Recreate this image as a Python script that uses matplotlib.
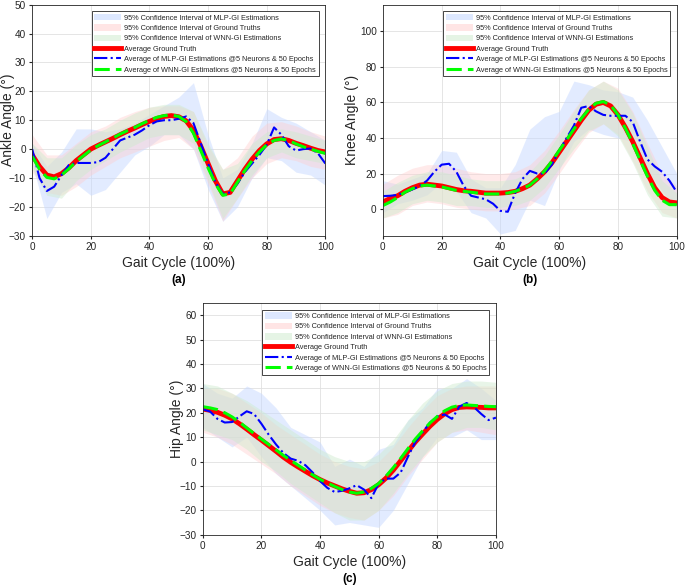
import numpy as np
import matplotlib
matplotlib.use("Agg")
import matplotlib.pyplot as plt
from matplotlib.patches import Patch
from matplotlib.lines import Line2D

plt.rcParams['font.family'] = ['Liberation Sans', 'DejaVu Sans']

# gait cycle samples (lines every 2.5 %, bands every 5 %)
gait = np.arange(0, 100.1, 2.5)
gait_band = np.arange(0, 100.1, 5)

# ---------------- (a) ankle ----------------
ankle_gt = [-2, -6, -9, -9.6, -8.5, -6.5, -4, -2, 0, 1.3, 2.5, 3.7, 5, 6.2, 7.3, 8.5, 9.6, 10.6, 11.3, 11.6,
            11.2, 9.8, 6.5, 1, -5, -11, -15.5, -15, -11, -7, -3.5, -0.5, 1.8, 3.3, 3.6, 3, 2, 1.2, 0.3, -0.5, -1]
ankle_wnn = [-2.5, -7, -9.8, -10.3, -9, -6.8, -4.3, -2.3, -0.3, 1.2, 2.5, 3.8, 5.2, 6.4, 7.5, 8.8, 10, 11, 11.6, 11.8,
             11.3, 9.5, 5.5, -0.5, -6.5, -12, -16, -15.5, -11.5, -7.5, -4, -1, 1.5, 3, 3.5, 3, 1.8, 0.8, 0, -0.8, -1.5]
ankle_mlp = [0, -10, -14.5, -13, -9, -5.5, -4.8, -4.8, -4.8, -4.5, -3, 0, 3, 4, 5, 6.5, 8.3, 9.6, 10, 10,
             10.5, 11.3, 9, 2, -5, -11.5, -15.5, -15, -12, -8, -5, -2, 1.5, 7.5, 5, 1, -0.5, 0, 0.2, -1.5, -5]
ankle_gt_hi = [5, -2, -2, 2, 6, 8, 11, 13, 14.5, 15, 15, 13, 1, -7, -3, 4.5, 9, 9.5, 8, 6, 4.5]
ankle_gt_lo = [-8, -15, -16, -13, -9, -6, -3, -1, 1, 3, 4, 0, -12, -25, -17, -10, -5, -3, -4, -6, -7]
ankle_wnn_hi = [2, -3, -3, 1.5, 5, 7, 10, 12.5, 14.5, 15.5, 15.5, 13, 2, -7, -5, 2, 6, 7, 6, 4.5, 3]
ankle_wnn_lo = [-7, -16, -17, -11, -7, -4, -1, 1.5, 4, 5, 5, 2, -11, -24, -17, -9, -3, -1, -3, -4, -5]
ankle_mlp_hi = [2, -6, -1, 7, 7, 6, 7, 9, 12, 15, 18, 23, 5, -10, -7, 2, 14, 11, 9, 6, 3]
ankle_mlp_lo = [-5, -24, -15, -12, -16, -14, -8, -2, 1, 5, 5, 0, -14, -25, -20, -10, -3, -4, -8, -9, -12.5]

# ---------------- (b) knee ----------------
knee_gt = [4, 6, 7.5, 10, 12, 13.5, 14, 13.5, 13, 12, 11, 10.3, 10, 9.5, 9, 9, 9, 9.3, 10, 11.5,
           13.5, 17, 21, 26, 32, 38, 44, 50, 55.5, 59, 60, 58, 53, 46, 38, 29, 20, 12, 6.5, 4, 3.5]
knee_wnn = [2, 4, 6.5, 9.5, 11.5, 13, 13.5, 13, 12.5, 11.5, 10.5, 10, 9.5, 9, 8.5, 8.5, 8.5, 9, 10, 11.5,
            13.5, 17, 21.5, 27, 33, 39, 45, 51, 56, 59.5, 60.5, 58.5, 53, 45.5, 37, 27.5, 18.5, 10.5, 5, 2.5, 2.5]
knee_mlp = [7.3, 7.5, 8, 9.5, 11, 13, 16, 21, 25, 25.5, 21, 13, 7.5, 6.5, 5.5, 3, -1, -1.5, 9, 17,
            21.5, 20, 20, 25, 33, 40, 47, 57, 58, 55, 53, 52.5, 52.5, 52.5, 49, 38, 28, 24, 21, 16, 9.5]
knee_gt_hi = [14, 19, 23, 25, 25, 23, 21, 20, 20, 21, 25, 33, 44, 56, 67, 72, 68, 55, 37, 20, 13]
knee_gt_lo = [-5, -3, 2, 4, 3, 1, 0, -1, -1, 0, 2, 9, 20, 32, 43, 48, 42, 27, 10, -2, -5]
knee_wnn_hi = [10, 15, 19, 21, 21, 19, 17, 16, 16, 17, 21, 30, 42, 55, 67, 72, 67, 54, 35, 16, 9]
knee_wnn_lo = [-5, -2, 3, 5, 4, 2, 2, 1, 1, 2, 5, 12, 23, 34, 44, 48, 41, 26, 8, -4, -5]
knee_mlp_hi = [16, 14, 17, 20, 33, 32, 17, 12, 12, 25, 45, 52, 55, 72, 70, 67, 66, 63, 50, 35, 20]
knee_mlp_lo = [-2, 3, 5, 8, 15, 10, -2, -5, -14, -12, 5, 2, 22, 38, 45, 42, 40, 38, 22, 10, 0]

# ---------------- (c) hip ----------------
hip_gt = [21.5, 21, 20.2, 19, 17.5, 15.5, 13.3, 11, 8.8, 6.5, 4.2, 1.8, -0.3, -2.2, -4, -5.8, -7.4, -8.8, -10, -11.2,
          -12.2, -13, -12.8, -11.5, -9.5, -6.8, -3.5, 0.3, 4.2, 8, 11.3, 14.5, 17.3, 19.6, 21.3, 22.2, 22.4, 22.3, 22.2, 22, 22]
hip_wnn = [22.5, 22, 21.3, 20, 18.3, 16.2, 13.8, 11.5, 9.2, 7, 4.8, 2.5, 0.5, -1.5, -3.5, -5.5, -7.3, -8.8, -10.2, -11.5,
           -12.5, -13, -12.5, -11, -9, -6, -2.5, 1.3, 5.3, 9.2, 12.6, 15.8, 18.5, 20.8, 22.3, 23, 23.2, 23, 22.8, 22.6, 22.5]
hip_mlp = [21.4, 20.5, 17.5, 16, 16.2, 18.5, 20.6, 19.5, 15.5, 11, 7, 3.5, 1.2, 0.3, -1.5, -4.5, -8, -10.8, -12.5, -12,
           -11, -9.7, -11.5, -15, -9, -7, -7, -4.5, 2, 8, 12, 16, 18.5, 19.3, 17.5, 22.5, 24, 22.3, 19.5, 17, 18]
hip_gt_hi = [30, 30, 28, 24, 20, 15, 11, 7, 3, 0, -2, -3, 0, 6, 14, 21, 27, 30, 31, 31, 31]
hip_gt_lo = [12, 10, 7, 3, -1, -5, -10, -14, -18, -21, -23, -24, -20, -14, -6, 1, 8, 12, 13, 12, 11]
hip_wnn_hi = [32, 31, 28, 25, 21, 17, 13, 9, 5, 2, 0, 0, 3, 9, 17, 24, 29, 32, 33, 33, 32.5]
hip_wnn_lo = [13, 11, 9, 5, 0, -4, -9, -13, -17, -21, -24, -24, -20, -13, -5, 2, 8, 12, 14, 14, 13]
hip_mlp_hi = [32, 28, 26, 31, 28, 22, 14, 11, 8, -2, 1, -2, 5, 7, 17, 22, 30, 30, 34, 30, 25]
hip_mlp_lo = [14, 10, 6, 10, 2, -5, -10, -15, -20, -26, -25, -26, -27, -20, -9, 2, 10, 10, 13, 9, 9]

legend_labels = ["95% Confidence Interval of MLP-GI Estimations",
                 "95% Confidence Interval of Ground Truths",
                 "95% Confidence Interval of WNN-GI Estimations",
                 "Average Ground Truth",
                 "Average of MLP-GI Estimations @5 Neurons & 50 Epochs",
                 "Average of WNN-GI Estimations @5 Neurons & 50 Epochs"]

c_blue = (0.78, 0.85, 1.0)
c_pink = (1.0, 0.80, 0.80)
c_green = (0.80, 0.92, 0.80)
tick_gray = (0.15, 0.15, 0.15)


def draw_panel(ax, gt, wnn, mlp, bands, ylim, yticks, ylabel, ylabel_x, tag):
    mlp_hi, mlp_lo, gt_hi, gt_lo, wnn_hi, wnn_lo = bands
    ax.fill_between(gait_band, mlp_lo, mlp_hi, color=c_blue, alpha=0.5, lw=0)
    ax.fill_between(gait_band, gt_lo, gt_hi, color=c_pink, alpha=0.4, lw=0)
    ax.fill_between(gait_band, wnn_lo, wnn_hi, color=c_green, alpha=0.45, lw=0)
    ax.plot(gait, gt, color="red", lw=3.5)
    ax.plot(gait, mlp, color="blue", lw=1.5, ls="-.")
    ax.plot(gait, wnn, color=(0, 1, 0), lw=2.2, ls=(0, (5, 2)))

    ax.set_xlim(0, 100)
    ax.set_ylim(*ylim)
    ax.set_xticks(range(0, 101, 20))
    ax.set_yticks(yticks)
    ax.grid(True, color=(0.88, 0.88, 0.88), lw=0.6)
    ax.set_axisbelow(True)
    ax.tick_params(direction="out", labelsize=7.2, colors=tick_gray, length=2.5, pad=2)
    for s in ax.spines.values():
        s.set_color(tick_gray)
        s.set_linewidth(0.6)
    ax.set_xlabel("Gait Cycle (100%)", fontsize=10, color=tick_gray, labelpad=3)
    ax.set_ylabel(ylabel, fontsize=10, color=tick_gray)
    ax.yaxis.set_label_coords(ylabel_x, 0.5)
    ax.text(0.5, -0.19, tag, transform=ax.transAxes, ha="center", va="center",
            fontsize=8.5, fontweight="bold")

    handles = [Patch(facecolor=c_blue, alpha=0.6, edgecolor="none"),
               Patch(facecolor=c_pink, alpha=0.5, edgecolor="none"),
               Patch(facecolor=c_green, alpha=0.5, edgecolor="none"),
               Line2D([], [], color="red", lw=3.5),
               Line2D([], [], color="blue", lw=1.5, ls="-."),
               Line2D([], [], color=(0, 1, 0), lw=2.2, ls=(0, (5, 2)))]
    leg = ax.legend(handles, legend_labels, loc="upper right", fontsize=5.3,
                    fancybox=False, framealpha=1, edgecolor=tick_gray,
                    handlelength=3.7, handleheight=1.0, labelspacing=0.35,
                    borderaxespad=0.9, borderpad=0.35, handletextpad=0.4)
    leg.get_frame().set_linewidth(0.6)
    for t in leg.get_texts():
        t.set_color(tick_gray)


fig = plt.figure(figsize=(6.85, 5.85), dpi=100)
ax_a = fig.add_axes([0.047, 0.597, 0.428, 0.395])
ax_b = fig.add_axes([0.559, 0.597, 0.429, 0.395])
ax_c = fig.add_axes([0.296, 0.086, 0.428, 0.396])

draw_panel(ax_a, ankle_gt, ankle_wnn, ankle_mlp,
           (ankle_mlp_hi, ankle_mlp_lo, ankle_gt_hi, ankle_gt_lo, ankle_wnn_hi, ankle_wnn_lo),
           (-30, 50), range(-30, 51, 10), "Ankle Angle (°)", -0.058, "(a)")
draw_panel(ax_b, knee_gt, knee_wnn, knee_mlp,
           (knee_mlp_hi, knee_mlp_lo, knee_gt_hi, knee_gt_lo, knee_wnn_hi, knee_wnn_lo),
           (-15, 115), range(0, 101, 20), "Knee Angle (°)", -0.082, "(b)")
draw_panel(ax_c, hip_gt, hip_wnn, hip_mlp,
           (hip_mlp_hi, hip_mlp_lo, hip_gt_hi, hip_gt_lo, hip_wnn_hi, hip_wnn_lo),
           (-30, 65), range(-30, 61, 10), "Hip Angle (°)", -0.065, "(c)")

fig.savefig("out.png", dpi=100)
